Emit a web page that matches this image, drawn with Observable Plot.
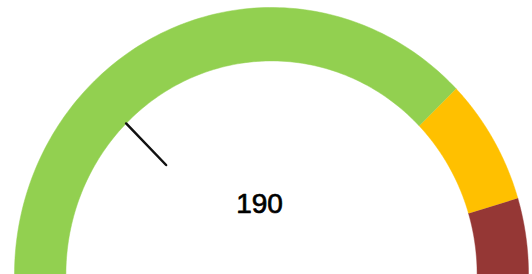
<!DOCTYPE html>
<html>
<head>
<meta charset="utf-8">
<script src="https://cdn.jsdelivr.net/npm/d3@7"></script>
<script src="https://cdn.jsdelivr.net/npm/@observablehq/plot@0.6"></script>
<style>
  html, body { margin: 0; padding: 0; background: #fff; }
  #chart svg { display: block; }
</style>
</head>
<body>
<div id="chart"></div>
<script>
// Gauge data
const gaugeMin = 0;
const gaugeMax = 760;
const bandNames = ["Good", "Warning", "Critical"];
const bandStarts = [0, 574, 690];
const bandEnds = [574, 690, 760];
const bandColors = ["#92d050", "#ffc000", "#953735"];
const gaugeValue = 190;
const valueLabel = "190";

// geometry (unit radii)
const outerR = 1;
const innerR = 0.8;
const needleR0 = 0.8;
const needleR1 = 0.58;

const angleOf = v => Math.PI * (1 - (v - gaugeMin) / (gaugeMax - gaugeMin));

function bandPolygon(v0, v1) {
  const n = 120;
  const pts = [];
  for (let i = 0; i <= n; i++) {
    const a = angleOf(v0 + (v1 - v0) * i / n);
    pts.push({x: outerR * Math.cos(a), y: outerR * Math.sin(a)});
  }
  for (let i = n; i >= 0; i--) {
    const a = angleOf(v0 + (v1 - v0) * i / n);
    pts.push({x: innerR * Math.cos(a), y: innerR * Math.sin(a)});
  }
  return pts;
}

const bandMarks = bandNames.map((name, i) =>
  Plot.line(bandPolygon(bandStarts[i], bandEnds[i]), {
    x: "x", y: "y", fill: bandColors[i], stroke: bandColors[i], strokeWidth: 0.5, curve: "linear"
  })
);

const na = angleOf(gaugeValue);
const needle = [{
  x1: needleR0 * Math.cos(na), y1: needleR0 * Math.sin(na),
  x2: needleR1 * Math.cos(na), y2: needleR1 * Math.sin(na)
}];

const chart = Plot.plot({
  width: 532,
  height: 274,
  margin: 0,
  x: {domain: [-1, 1], range: [14, 528], axis: null},
  y: {domain: [0, 1], range: [274, 7], axis: null},
  style: {background: "white"},
  marks: [
    ...bandMarks,
    Plot.link(needle, {x1: "x1", y1: "y1", x2: "x2", y2: "y2", stroke: "#111", strokeWidth: 2.5, strokeLinecap: "round"}),
    Plot.text([valueLabel], {x: 0, y: 0.232, dx: -12, text: d => d, lineAnchor: "bottom", textAnchor: "middle",
      fontSize: 28, fontFamily: "Liberation Sans, Arial, sans-serif", fill: "#000", stroke: "#000", strokeWidth: 0.7})
  ]
});
document.getElementById("chart").appendChild(chart);
</script>
</body>
</html>
